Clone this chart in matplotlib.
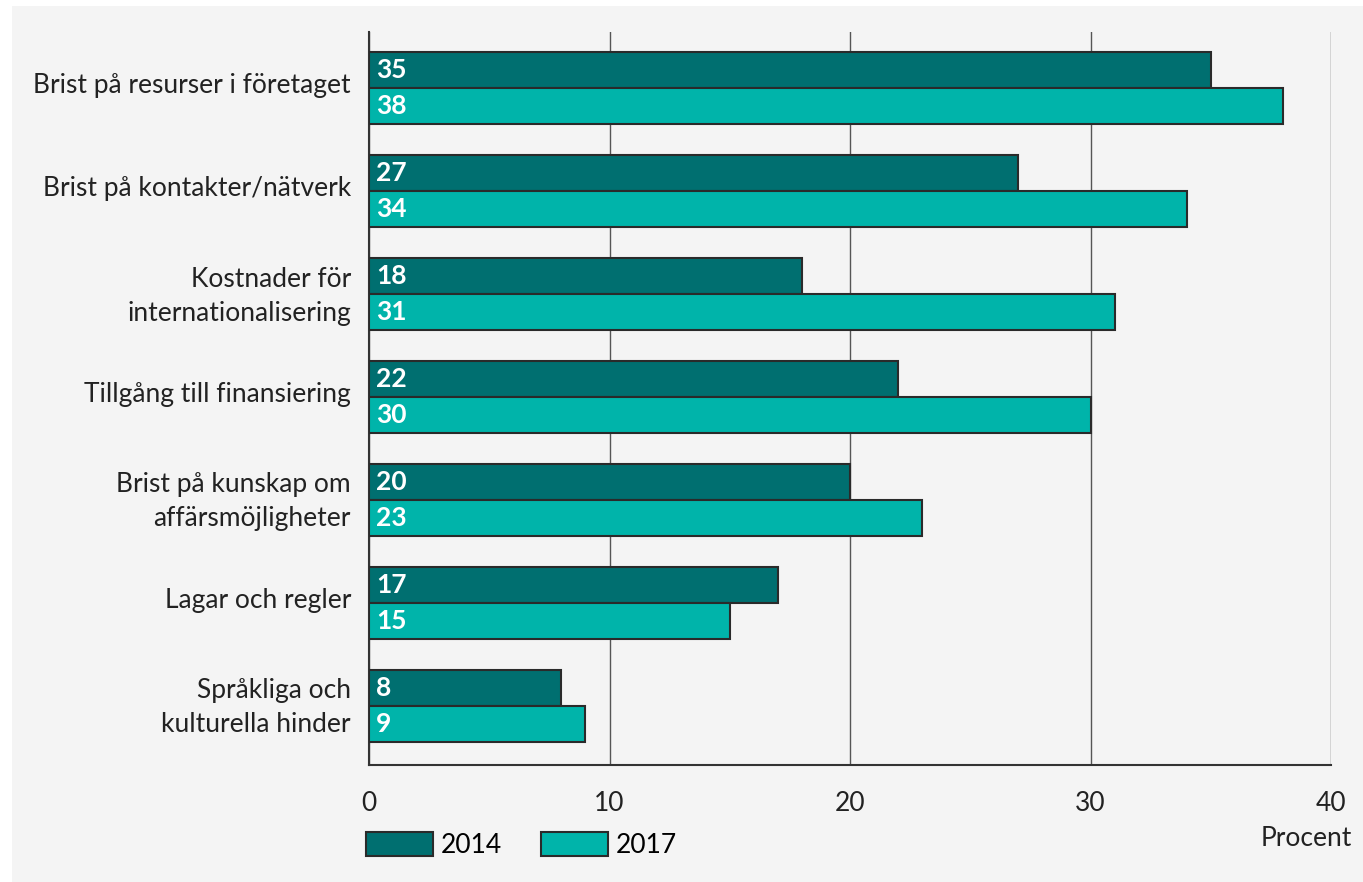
import matplotlib.pyplot as plt
import matplotlib.transforms as mtransforms
from matplotlib.patches import Rectangle, Patch
import numpy as np

categories = [
    'Brist på resurser i företaget',
    'Brist på kontakter/nätverk',
    'Kostnader för\ninternationalisering',
    'Tillgång till finansiering',
    'Brist på kunskap om\naffärsmöjligheter',
    'Lagar och regler',
    'Språkliga och\nkulturella hinder',
]
values_2014 = [35, 27, 18, 22, 20, 17, 8]
values_2017 = [38, 34, 31, 30, 23, 15, 9]
xticks = [0, 10, 20, 30, 40]

dark_teal = '#006f70'
light_teal = '#00b4aa'
bg = '#f4f4f4'
edge = '#2a2a2a'
fs = 19

plt.rcParams['font.family'] = ['Lato', 'DejaVu Sans']

fig = plt.figure(figsize=(13.63, 8.82), dpi=100)
fig.patch.set_facecolor('white')
# grey panel behind the chart
fig.patches.append(Rectangle((12 / 1363, 0), 1 - 12 / 1363, 1 - 6 / 882,
                             transform=fig.transFigure, facecolor=bg,
                             edgecolor='none', zorder=-10))

ax = fig.add_axes([369 / 1363, 1 - 765 / 882, 962 / 1363, 733 / 882])
ax.set_facecolor(bg)
ax.patch.set_alpha(0)

y = np.arange(len(categories))
h = 0.35
ax.barh(y - h / 2, values_2014, height=h, color=dark_teal, edgecolor=edge,
        linewidth=1.5, zorder=3)
ax.barh(y + h / 2, values_2017, height=h, color=light_teal, edgecolor=edge,
        linewidth=1.5, zorder=3)

for yi, v1, v2 in zip(y, values_2014, values_2017):
    ax.text(0.3, yi - h / 2, str(v1), color='white', fontweight='bold',
            fontsize=fs, va='center', ha='left', zorder=4)
    ax.text(0.3, yi + h / 2, str(v2), color='white', fontweight='bold',
            fontsize=fs, va='center', ha='left', zorder=4)

ax.set_xlim(0, 40)
ax.set_ylim(6.573, -0.544)
ax.set_xticks(xticks)
ax.set_xticklabels([str(t) for t in xticks], fontsize=fs, color='#222222')
ax.set_yticks(y)
ax.set_yticklabels(categories, fontsize=fs, color='#222222', linespacing=1.45)
ax.tick_params(axis='both', length=0)
ax.tick_params(axis='x', pad=19)
ax.tick_params(axis='y', pad=13)

# nudge category labels up a little
shift = mtransforms.ScaledTranslation(0, 5 / 100, fig.dpi_scale_trans)
for lab in ax.get_yticklabels():
    lab.set_transform(lab.get_transform() + shift)

ax.grid(axis='x', color='#555555', linewidth=1, zorder=0)
for s in ['top', 'right']:
    ax.spines[s].set_visible(False)
ax.spines['left'].set_color('#333333')
ax.spines['bottom'].set_color('#333333')
ax.spines['left'].set_linewidth(1.5)
ax.spines['bottom'].set_linewidth(1.5)

fig.text(1352 / 1363, 1 - 838 / 882, 'Procent', fontsize=fs, color='#222222',
         ha='right', va='center')

handles = [Patch(facecolor=dark_teal, edgecolor=edge, linewidth=1.5, label='2014'),
           Patch(facecolor=light_teal, edgecolor=edge, linewidth=1.5, label='2017')]
fig.legend(handles=handles, loc='center left',
           bbox_to_anchor=(366 / 1363, 1 - 845 / 882), ncol=2, frameon=False,
           fontsize=fs, handlelength=2.55, handleheight=1.0, handletextpad=0.3,
           columnspacing=1.45, borderaxespad=0, borderpad=0)

fig.savefig('out.png', dpi=100, facecolor=fig.get_facecolor())
